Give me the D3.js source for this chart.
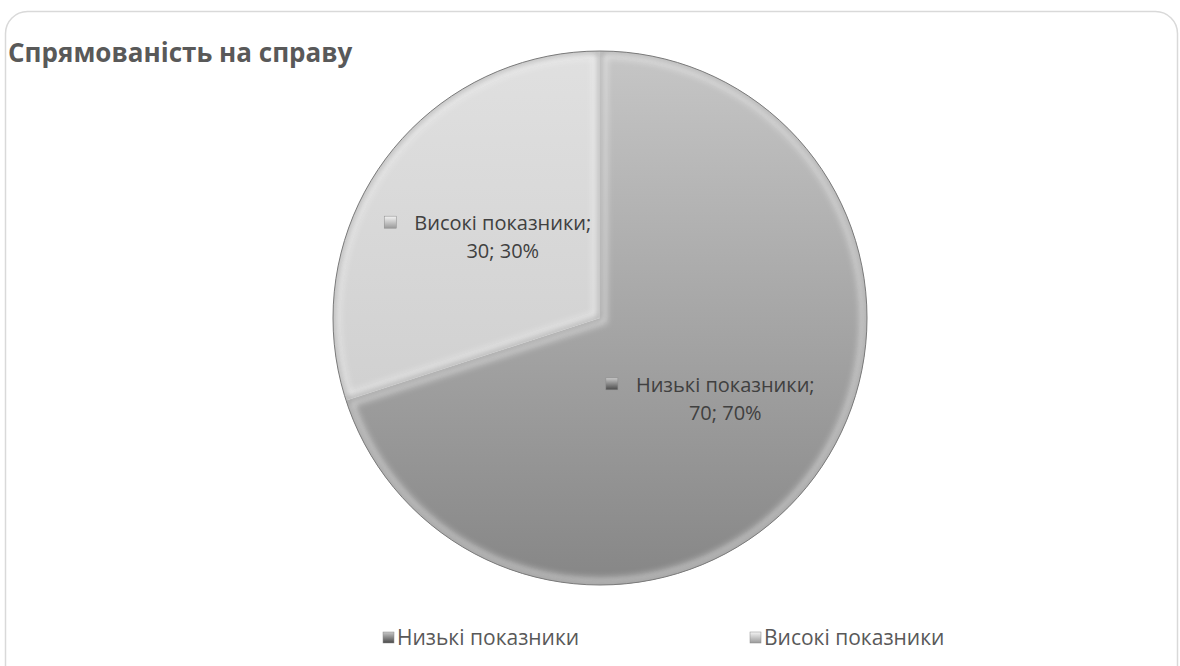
<!DOCTYPE html>
<html>
<head>
<meta charset="utf-8">
<script src="https://cdn.jsdelivr.net/npm/d3@7"></script>
<style>
  html, body { margin: 0; padding: 0; background: #fff; }
  svg { display: block; }
  text { font-family: "Open Sans", "Noto Sans", sans-serif; }
</style>
</head>
<body>
<div id="chart"></div>
<script>
var categories = ['Низькі показники', 'Високі показники'];
var values = [70, 30];
var percents = ['70%', '30%'];
var title = 'Спрямованість на справу';

var width = 1180, height = 666;
var cx = 600, cy = 318, radius = 267;

var svg = d3.select('#chart').append('svg')
    .attr('width', width)
    .attr('height', height);

var defs = svg.append('defs');

// slice colours: top / bottom of a vertical gradient
var shades = [
  { top: '#c6c6c6', bottom: '#868686' },
  { top: '#e0e0e0', bottom: '#c8c8c8' }
];
var markerShades = [
  { top: '#c8c8c8', bottom: '#4a4a4a' },
  { top: '#f4f4f4', bottom: '#9a9a9a' }
];

shades.forEach(function(s, i) {
  var g = defs.append('linearGradient')
      .attr('id', 'slice-grad-' + i)
      .attr('gradientUnits', 'userSpaceOnUse')
      .attr('x1', 0).attr('y1', -radius)
      .attr('x2', 0).attr('y2', radius);
  g.append('stop').attr('offset', '0%').attr('stop-color', s.top);
  g.append('stop').attr('offset', '100%').attr('stop-color', s.bottom);
});
markerShades.forEach(function(s, i) {
  var g = defs.append('linearGradient')
      .attr('id', 'marker-grad-' + i)
      .attr('x1', 0).attr('y1', 0)
      .attr('x2', 0).attr('y2', 1);
  g.append('stop').attr('offset', '0%').attr('stop-color', s.top);
  g.append('stop').attr('offset', '100%').attr('stop-color', s.bottom);
});

defs.append('filter').attr('id', 'soft')
    .attr('x', '-10%').attr('y', '-10%').attr('width', '120%').attr('height', '120%')
  .append('feGaussianBlur').attr('stdDeviation', 3);

// chart border
svg.append('rect')
    .attr('x', 5.5).attr('y', 11.5)
    .attr('width', 1172).attr('height', 680)
    .attr('rx', 22).attr('ry', 22)
    .attr('fill', 'none')
    .attr('stroke', '#d9d9d9')
    .attr('stroke-width', 1.5);

svg.append('text')
    .attr('x', 8).attr('y', 62)
    .attr('font-size', 26)
    .attr('font-weight', 'bold')
    .attr('fill', '#595959')
    .text(title);

var pie = d3.pie().sort(null).value(function(d) { return d; });
var arcs = pie(values);
var arc = d3.arc().innerRadius(0).outerRadius(radius);
var labelArc = d3.arc().innerRadius(radius * 0.515).outerRadius(radius * 0.515);

var vis = svg.append('g')
    .attr('transform', 'translate(' + cx + ',' + cy + ')');

arcs.forEach(function(a, i) {
  var clipId = 'clip-' + i;
  defs.append('clipPath').attr('id', clipId)
    .append('path').attr('d', arc(a));

  var g = vis.append('g');
  g.append('path')
      .attr('d', arc(a))
      .attr('fill', 'url(#slice-grad-' + i + ')');

  // bevel: light band inside every edge
  g.append('path')
      .attr('d', arc(a))
      .attr('fill', 'none')
      .attr('stroke', '#ffffff')
      .attr('stroke-opacity', 0.5)
      .attr('stroke-width', 14)
      .attr('filter', 'url(#soft)')
      .attr('clip-path', 'url(#' + clipId + ')');

  // thin dark edge
  g.append('path')
      .attr('d', arc(a))
      .attr('fill', 'none')
      .attr('stroke', '#6a6a6a')
      .attr('stroke-width', 3)
      .attr('stroke-opacity', 0.75)
      .attr('filter', 'url(#soft)')
      .attr('clip-path', 'url(#' + clipId + ')');
});

// outer rim line
vis.append('circle')
    .attr('r', radius)
    .attr('fill', 'none')
    .attr('stroke', '#7a7a7a')
    .attr('stroke-width', 1);

// data labels
arcs.forEach(function(a, i) {
  var c = labelArc.centroid(a);
  var lg = vis.append('g').attr('transform', 'translate(' + c[0] + ',' + c[1] + ')');
  var line1 = lg.append('text')
      .attr('text-anchor', 'middle')
      .attr('x', 14)
      .attr('y', -7)
      .attr('font-size', 20)
      .attr('fill', '#404040')
      .text(categories[i] + ';');
  lg.append('text')
      .attr('text-anchor', 'middle')
      .attr('x', 14)
      .attr('y', 21)
      .attr('font-size', 20)
      .attr('fill', '#404040')
      .text(values[i] + '; ' + percents[i]);
  var w = line1.node().getComputedTextLength();
  lg.append('rect')
      .attr('x', 14 - w / 2 - 30).attr('y', -21)
      .attr('width', 12).attr('height', 12)
      .attr('fill', 'url(#marker-grad-' + i + ')')
      .attr('stroke', '#8a8a8a')
      .attr('stroke-width', 0.5);
});

// legend
var legend = svg.append('g').attr('transform', 'translate(0,638)');
var legendX = [383, 750];
categories.forEach(function(name, i) {
  var item = legend.append('g').attr('transform', 'translate(' + legendX[i] + ',0)');
  item.append('rect')
      .attr('x', 0).attr('y', -6)
      .attr('width', 11).attr('height', 11)
      .attr('fill', 'url(#marker-grad-' + i + ')')
      .attr('stroke', '#8a8a8a')
      .attr('stroke-width', 0.5);
  item.append('text')
      .attr('x', 14).attr('y', 7)
      .attr('font-size', 21)
      .attr('fill', '#595959')
      .text(name);
});
</script>
</body>
</html>
